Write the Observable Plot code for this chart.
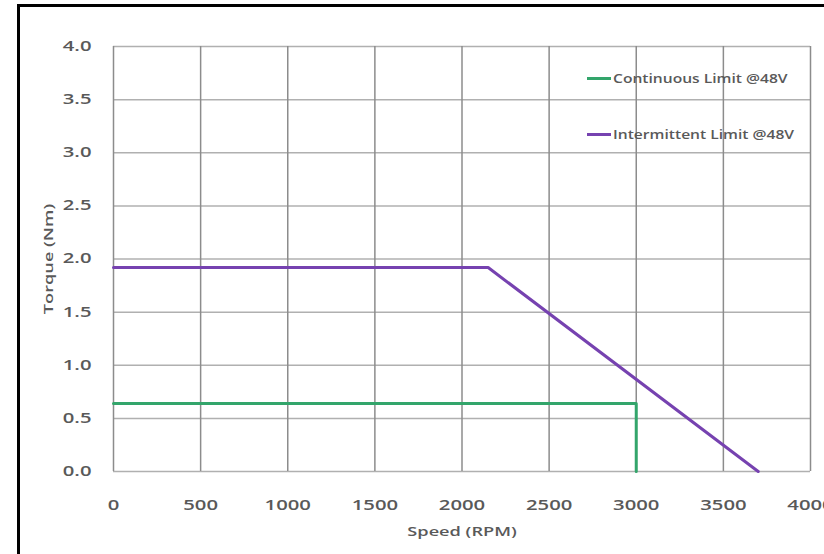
<!DOCTYPE html>
<html>
<head>
<meta charset="utf-8">
<script src="https://cdn.jsdelivr.net/npm/d3@7"></script>
<script src="https://cdn.jsdelivr.net/npm/@observablehq/plot@0.6"></script>
<style>
  html, body { margin: 0; padding: 0; background: #fff; }
  #wrap { position: relative; width: 824px; height: 554px; overflow: hidden; font-family: "Open Sans", sans-serif; }
  #frame { position: absolute; left: 17px; top: 4px; right: -10px; bottom: -10px; border-top: 3px solid #000; border-left: 3px solid #000; pointer-events: none; }
  .leg { position: absolute; display: flex; align-items: center; font-size: 12px; font-weight: 600; color: #595959; white-space: nowrap; }
  .leg span.sw { display: inline-block; width: 24px; height: 3px; margin-right: 2px; }
  .leg span.tx { display: inline-block; transform: scaleX(1.3); transform-origin: left center; }
</style>
</head>
<body>
<div id="wrap"></div>
<script>
const xTicks = [0, 500, 1000, 1500, 2000, 2500, 3000, 3500, 4000];
const yTicks = [0, 0.5, 1.0, 1.5, 2.0, 2.5, 3.0, 3.5, 4.0];
const seriesNames = ["Continuous Limit @48V", "Intermittent Limit @48V"];
const seriesColors = ["#33a56b", "#7642b0"];
const continuousSpeed = [0, 3000, 3000];
const continuousTorque = [0.64, 0.64, 0];
const intermittentSpeed = [0, 2150, 3700];
const intermittentTorque = [1.92, 1.92, 0];

const data = [
  ...continuousSpeed.map((s, i) => ({series: seriesNames[0], speed: s, torque: continuousTorque[i]})),
  ...intermittentSpeed.map((s, i) => ({series: seriesNames[1], speed: s, torque: intermittentTorque[i]}))
];

const chart = Plot.plot({
  width: 824,
  height: 554,
  marginLeft: 113,
  marginRight: 14,
  marginTop: 46,
  marginBottom: 83,
  style: {fontFamily: "'Open Sans', sans-serif", fontSize: "14px", fontWeight: 600, color: "#595959", background: "transparent"},
  x: {domain: [0, 4000], ticks: xTicks, tickSize: 0, tickPadding: 29, tickFormat: d3.format("d"), label: "Speed (RPM)", labelAnchor: "center", labelArrow: "none", labelOffset: 64},
  y: {domain: [0, 4], ticks: yTicks, tickSize: 0, tickPadding: 22, tickFormat: d3.format(".1f"), label: "Torque (Nm)", labelAnchor: "center", labelArrow: "none", labelOffset: 70},
  color: {domain: seriesNames, range: seriesColors},
  marks: [
    Plot.ruleY(yTicks, {stroke: "#b0b0b0", strokeWidth: 1.5}),
    Plot.ruleX(xTicks, {stroke: "#8c8c8c", strokeWidth: 1.5}),
    Plot.line(data, {x: "speed", y: "torque", z: "series", stroke: "series", strokeWidth: 3}),
  ]
});
const wrap = document.getElementById("wrap");
wrap.appendChild(chart);
chart.style.position = "absolute";
chart.style.left = "0";
chart.style.top = "0";

function stretch(sel, sx, fs) {
  chart.querySelectorAll(sel).forEach(t => {
    if (fs) t.style.fontSize = fs;
    const ax = parseFloat(t.getAttribute("x") || 0);
    const ay = parseFloat(t.getAttribute("y") || 0);
    const tr = t.getAttribute("transform") || "";
    t.setAttribute("transform", `${tr} translate(${ax},${ay}) scale(${sx},1) translate(${-ax},${-ay})`);
  });
}
stretch("[aria-label='x-axis tick label'] text, [aria-label='y-axis tick label'] text", 1.45);
stretch("[aria-label='x-axis label'] text, [aria-label='y-axis label'] text", 1.4, "13px");

const legendTops = [70, 126];
seriesNames.forEach((name, i) => {
  const d = document.createElement("div");
  d.className = "leg";
  d.style.left = "587px";
  d.style.top = legendTops[i] + "px";
  d.innerHTML = `<span class="sw" style="background:${seriesColors[i]}"></span><span class="tx">${name}</span>`;
  wrap.appendChild(d);
});
const f = document.createElement("div");
f.id = "frame";
wrap.appendChild(f);
</script>
</body>
</html>
